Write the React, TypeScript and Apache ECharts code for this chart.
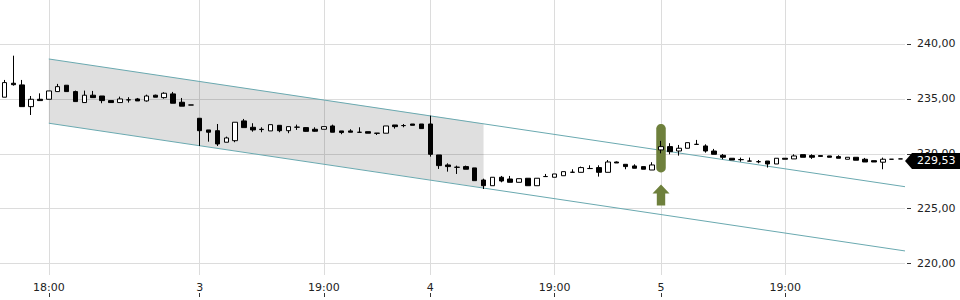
import React, { useEffect, useRef } from 'react';
import * as echarts from 'echarts';

// [open, close, low, high]
const candles: [number, number, number, number][] = [
  [235.15, 236.48, 235.15, 236.72],
  [236.42, 236.29, 236.2, 238.93],
  [236.27, 234.29, 234.29, 236.72],
  [234.29, 234.96, 233.53, 235.26],
  [234.96, 234.84, 234.84, 235.5],
  [234.96, 235.72, 234.96, 235.72],
  [235.66, 236.11, 235.66, 236.36],
  [236.24, 235.66, 235.66, 236.24],
  [235.66, 234.75, 234.75, 235.75],
  [234.66, 235.33, 234.66, 235.75],
  [235.33, 235.11, 235.11, 235.72],
  [235.26, 234.84, 234.6, 235.26],
  [234.84, 234.66, 234.66, 234.84],
  [234.66, 234.99, 234.66, 235.2],
  [234.9, 234.92, 234.66, 235.15],
  [234.99, 234.81, 234.81, 235.08],
  [234.81, 235.26, 234.75, 235.38],
  [235.33, 235.15, 235.15, 235.38],
  [235.11, 235.51, 235.02, 235.6],
  [235.45, 234.6, 234.6, 235.63],
  [234.69, 234.33, 234.33, 235.08],
  [234.44, 234.44, 234.44, 234.44],
  [233.23, 232.1, 230.71, 233.23],
  [232.17, 231.96, 231.1, 232.17],
  [232.1, 230.89, 230.71, 232.71],
  [231.05, 231.44, 231.05, 231.56],
  [231.19, 232.87, 231.05, 232.87],
  [232.99, 232.38, 232.38, 233.17],
  [232.41, 232.17, 232.01, 232.78],
  [232.23, 232.2, 231.96, 232.41],
  [232.08, 232.65, 232.08, 232.65],
  [232.59, 232.1, 231.96, 232.59],
  [232.1, 232.47, 231.87, 232.47],
  [232.41, 232.43, 232.17, 232.65],
  [232.38, 232.04, 232.01, 232.41],
  [232.23, 232.05, 232.01, 232.41],
  [232.23, 232.47, 232.23, 232.47],
  [232.53, 231.96, 231.96, 232.65],
  [232.08, 231.93, 231.78, 232.08],
  [232.08, 231.96, 231.96, 232.23],
  [231.96, 231.95, 231.95, 232.41],
  [232.01, 231.87, 231.87, 232.01],
  [231.88, 231.86, 231.71, 231.88],
  [231.87, 232.53, 231.87, 232.53],
  [232.62, 232.47, 232.29, 232.62],
  [232.56, 232.57, 232.41, 232.71],
  [232.71, 232.59, 232.59, 232.71],
  [232.71, 232.29, 232.29, 232.71],
  [232.71, 229.95, 229.74, 233.47],
  [229.89, 228.92, 228.62, 229.89],
  [228.98, 228.83, 228.37, 229.13],
  [228.78, 228.76, 228.16, 228.92],
  [228.83, 228.59, 228.59, 228.92],
  [228.71, 227.55, 227.55, 228.71],
  [227.61, 227.09, 226.79, 227.73],
  [227.09, 227.86, 227.09, 227.86],
  [227.86, 227.52, 227.4, 227.98],
  [227.7, 227.4, 227.4, 227.98],
  [227.4, 227.73, 227.4, 227.73],
  [227.77, 227.09, 227.09, 227.77],
  [227.09, 227.77, 227.09, 227.77],
  [227.92, 227.93, 227.92, 228.16],
  [227.86, 228.16, 227.86, 228.16],
  [228.0, 228.37, 228.0, 228.37],
  [228.31, 228.32, 228.31, 228.59],
  [228.31, 228.74, 228.31, 228.83],
  [228.65, 228.66, 228.65, 228.95],
  [228.74, 228.31, 227.92, 228.95],
  [228.31, 229.25, 228.31, 229.43],
  [229.25, 229.16, 229.16, 229.3],
  [229.04, 228.83, 228.59, 229.04],
  [228.89, 228.68, 228.68, 229.04],
  [228.83, 228.59, 228.59, 228.83],
  [228.52, 228.98, 228.52, 229.23],
  [230.35, 230.65, 230.04, 231.17],
  [230.65, 230.19, 229.95, 230.96],
  [230.25, 230.5, 229.83, 230.8],
  [230.5, 231.01, 230.5, 231.01],
  [230.86, 230.85, 230.85, 231.26],
  [230.71, 230.25, 230.1, 230.86],
  [230.25, 229.95, 229.95, 230.44],
  [229.86, 229.68, 229.5, 229.98],
  [229.59, 229.43, 229.43, 229.59],
  [229.47, 229.46, 229.28, 229.65],
  [229.34, 229.33, 229.33, 229.65],
  [229.28, 229.27, 229.13, 229.43],
  [229.34, 229.07, 228.74, 229.34],
  [229.07, 229.59, 229.07, 229.59],
  [229.59, 229.5, 229.5, 229.59],
  [229.53, 229.8, 229.53, 229.95],
  [229.92, 229.68, 229.68, 229.92],
  [229.83, 229.68, 229.53, 229.95],
  [229.83, 229.76, 229.74, 229.83],
  [229.8, 229.68, 229.68, 229.8],
  [229.74, 229.59, 229.59, 229.86],
  [229.5, 229.68, 229.5, 229.68],
  [229.68, 229.41, 229.41, 229.68],
  [229.5, 229.25, 229.25, 229.62],
  [229.37, 229.25, 229.25, 229.37],
  [229.23, 229.5, 228.59, 229.65],
  [229.5, 229.5, 229.5, 229.5],
  [229.53, 229.53, 229.53, 229.53],
];

const categories = candles.map((_, i) => String(i));

const timeTickIndex = [5, 22, 36, 48, 62, 74, 88];
const timeTickLabels = ['18:00', '3', '19:00', '4', '19:00', '5', '19:00'];

const priceTicks = [220, 225, 230, 235, 240];
const priceMin = 218.96;
const priceMax = 244.0;

const channelUpper = [[5, 238.63], [101.5, 227.0]];
const channelLower = [[5, 232.78], [101.5, 221.15]];
const shadedArea = [[5, 238.63], [54, 232.76], [54, 226.91], [5, 232.78]];

const signalIndex = 74;
const signalHigh = 232.7;
const signalLow = 228.3;

const lastPrice = 229.53;

const FONT = 'DejaVu Sans';
const fmtPrice = (v: number) => v.toFixed(2).replace('.', ',');

export default function App() {
  const ref = useRef<HTMLDivElement>(null);

  useEffect(() => {
    if (!ref.current) return;
    const chart = echarts.init(ref.current, undefined, { renderer: 'svg' });
    const xMin = -0.5;
    const xMax = candles.length - 0.5;
    const labelMap: Record<number, string> = {};
    timeTickIndex.forEach((v, i) => (labelMap[v] = timeTickLabels[i]));

    const option: any = {
      animation: false,
      textStyle: { fontFamily: FONT },
      grid: { left: 0, right: 55, top: 0, bottom: 25, containLabel: false },
      xAxis: [
        {
          type: 'category',
          data: categories,
          show: false,
          boundaryGap: true,
          axisLine: { onZero: false },
        },
        {
          type: 'value',
          min: xMin,
          max: xMax,
          position: 'bottom',
          axisLine: { show: false, onZero: false },
          axisTick: { show: false, customValues: timeTickIndex },
          axisLabel: {
            customValues: timeTickIndex,
            formatter: (v: number) => labelMap[v] ?? '',
            fontSize: 11,
            fontFamily: FONT,
            color: '#222',
            margin: 7,
          },
          splitLine: { show: true, lineStyle: { color: '#dcdcdc', width: 1 } },
        },
        {
          type: 'value',
          min: xMin,
          max: xMax,
          position: 'bottom',
          offset: 18,
          axisLine: { show: false, onZero: false },
          axisTick: { show: true, length: 4, customValues: timeTickIndex, lineStyle: { color: '#333' } },
          axisLabel: { show: false, customValues: timeTickIndex },
          splitLine: { show: false },
        },
      ],
      yAxis: [
        {
          type: 'value',
          position: 'right',
          min: priceMin,
          max: priceMax,
          offset: 2,
          axisLine: { show: false, onZero: false },
          axisTick: { show: true, length: 4, customValues: priceTicks, lineStyle: { color: '#333' } },
          axisLabel: {
            customValues: priceTicks,
            formatter: (v: number) => fmtPrice(v),
            fontSize: 11,
            fontFamily: FONT,
            color: '#222',
            margin: 10,
          },
          splitLine: { show: true, lineStyle: { color: '#dcdcdc', width: 1 } },
        },
      ],
      series: [
        {
          type: 'custom',
          name: 'shade',
          xAxisIndex: 1,
          yAxisIndex: 0,
          z: 1,
          silent: true,
          data: [shadedArea[0]],
          renderItem: (_p: any, api: any) => ({
            type: 'polygon',
            shape: { points: shadedArea.map((p) => api.coord(p)) },
            style: { fill: 'rgba(0,0,0,0.125)' },
          }),
        },
        {
          type: 'line',
          name: 'upper',
          xAxisIndex: 1,
          yAxisIndex: 0,
          z: 2,
          silent: true,
          symbol: 'none',
          data: channelUpper,
          lineStyle: { color: '#6aa9b0', width: 1 },
        },
        {
          type: 'line',
          name: 'lower',
          xAxisIndex: 1,
          yAxisIndex: 0,
          z: 2,
          silent: true,
          symbol: 'none',
          data: channelLower,
          lineStyle: { color: '#6aa9b0', width: 1 },
        },
        {
          type: 'custom',
          name: 'signal',
          xAxisIndex: 1,
          yAxisIndex: 0,
          z: 3,
          clip: false,
          silent: true,
          data: [[signalIndex, signalHigh, signalLow]],
          renderItem: (_p: any, api: any) => {
            const top = api.coord([api.value(0), api.value(1)]);
            const bot = api.coord([api.value(0), api.value(2)]);
            const cx = top[0];
            const b = bot[1];
            const fill = '#6e803c';
            return {
              type: 'group',
              children: [
                {
                  type: 'rect',
                  shape: { x: cx - 4.75, y: top[1], width: 9.5, height: b - top[1], r: 4.5 },
                  style: { fill },
                },
                {
                  type: 'polygon',
                  shape: {
                    points: [
                      [cx, b + 12],
                      [cx + 8.5, b + 21],
                      [cx + 4.2, b + 21],
                      [cx + 4.2, b + 33],
                      [cx - 4.2, b + 33],
                      [cx - 4.2, b + 21],
                      [cx - 8.5, b + 21],
                    ],
                  },
                  style: { fill },
                },
              ],
            };
          },
        },
        {
          type: 'candlestick',
          name: 'price',
          xAxisIndex: 0,
          yAxisIndex: 0,
          z: 4,
          barWidth: 5,
          data: candles,
          itemStyle: {
            color: '#ffffff',
            color0: '#000000',
            borderColor: '#000000',
            borderColor0: '#000000',
            borderWidth: 1,
          },
        },
        {
          type: 'custom',
          name: 'last',
          xAxisIndex: 1,
          yAxisIndex: 0,
          z: 5,
          clip: false,
          silent: true,
          data: [[xMax, lastPrice]],
          renderItem: (_p: any, api: any) => {
            const c = api.coord([api.value(0), api.value(1)]);
            const x = c[0];
            const y = c[1] + 2;
            const w = api.getWidth();
            return {
              type: 'group',
              children: [
                {
                  type: 'polygon',
                  shape: { points: [[x, y], [x + 7, y - 8], [w, y - 8], [w, y + 8], [x + 7, y + 8]] },
                  style: { fill: '#000' },
                },
                {
                  type: 'text',
                  x: x + 12,
                  y: y,
                  style: {
                    text: fmtPrice(lastPrice),
                    fill: '#fff',
                    fontSize: 11,
                    fontFamily: FONT,
                    verticalAlign: 'middle',
                    align: 'left',
                  },
                },
              ],
            };
          },
        },
      ],
    };
    chart.setOption(option);
    return () => chart.dispose();
  }, []);

  return (
    <div
      ref={ref}
      style={{ position: 'fixed', left: 0, top: 0, width: 960, height: 300, background: '#fff' }}
    />
  );
}
